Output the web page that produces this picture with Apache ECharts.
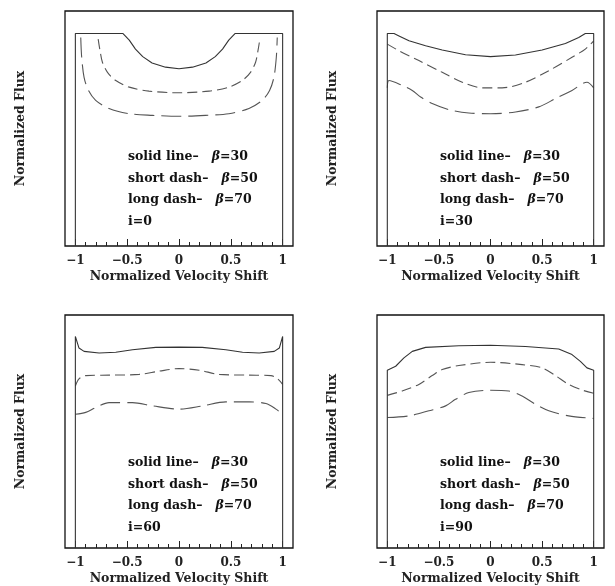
<!DOCTYPE html>
<html><head><meta charset="utf-8">
<script src="https://cdn.jsdelivr.net/npm/echarts@6/dist/echarts.min.js"></script>
<style>html,body{margin:0;padding:0;background:#fff}#c{width:615px;height:586px}</style>
</head><body><div id="c"></div>
<script>
// ---- tick values ----
const majorTicks = [-1, -0.5, 0, 0.5, 1];
const minorTicks = [-0.9, -0.8, -0.7, -0.6, -0.4, -0.3, -0.2, -0.1, 0.1, 0.2, 0.3, 0.4, 0.6, 0.7, 0.8, 0.9];

// ---- annotation text ----
const inclinations = ['i=0', 'i=30', 'i=60', 'i=90'];
const legendNames = ['solid line', 'short dash', 'long dash'];
const betaValues = ['30', '50', '70'];

// ---- panel i=0 ----
const solid_i0 = [[-1, 0], [-1, 0.904], [-0.54, 0.904], [-0.48, 0.876], [-0.42, 0.838], [-0.35, 0.806], [-0.26, 0.779], [-0.13, 0.761], [0, 0.754], [0.13, 0.761], [0.26, 0.779], [0.35, 0.806], [0.42, 0.838], [0.48, 0.876], [0.54, 0.904], [1, 0.904], [1, 0]];
const short_i0 = [[-0.78, 0.88], [-0.762, 0.831], [-0.739, 0.782], [-0.69, 0.739], [-0.61, 0.704], [-0.48, 0.676], [-0.29, 0.659], [0, 0.652], [0.29, 0.659], [0.48, 0.676], [0.61, 0.704], [0.69, 0.739], [0.739, 0.782], [0.762, 0.831], [0.78, 0.88]];
const long_i0 = [[-0.948, 0.887], [-0.939, 0.803], [-0.916, 0.718], [-0.874, 0.662], [-0.804, 0.62], [-0.675, 0.585], [-0.481, 0.563], [-0.256, 0.556], [0, 0.552], [0.256, 0.556], [0.481, 0.563], [0.675, 0.585], [0.804, 0.62], [0.874, 0.662], [0.916, 0.718], [0.939, 0.803], [0.948, 0.887]];

// ---- panel i=30 ----
const solid_i30 = [[-1, 0], [-1, 0.904], [-0.935, 0.904], [-0.887, 0.894], [-0.79, 0.873], [-0.629, 0.852], [-0.468, 0.834], [-0.242, 0.814], [0, 0.806], [0.242, 0.813], [0.5, 0.834], [0.726, 0.862], [0.855, 0.887], [0.919, 0.904], [1, 0.904], [1, 0]];
const short_i30 = [[-1, 0.859], [-0.887, 0.831], [-0.694, 0.789], [-0.468, 0.739], [-0.274, 0.697], [-0.081, 0.673], [0.113, 0.673], [0.339, 0.697], [0.565, 0.746], [0.79, 0.803], [0.919, 0.838], [1, 0.873]];
const long_i30 = [[-1, 0.673], [-0.984, 0.704], [-0.855, 0.683], [-0.758, 0.662], [-0.677, 0.634], [-0.565, 0.606], [-0.403, 0.58], [-0.21, 0.566], [0, 0.563], [0.242, 0.57], [0.468, 0.592], [0.629, 0.627], [0.79, 0.662], [0.935, 0.697], [1, 0.673]];

// ---- panel i=60 ----
const solid_i60 = [[-1, 0], [-1, 0.908], [-0.965, 0.858], [-0.916, 0.844], [-0.771, 0.837], [-0.61, 0.84], [-0.449, 0.851], [-0.224, 0.861], [0, 0.862], [0.224, 0.861], [0.452, 0.851], [0.613, 0.84], [0.774, 0.837], [0.919, 0.844], [0.968, 0.858], [1, 0.908], [1, 0]];
const short_i60 = [[-1, 0.695], [-0.965, 0.726], [-0.9, 0.74], [-0.675, 0.742], [-0.385, 0.745], [-0.192, 0.759], [0, 0.77], [0.195, 0.763], [0.388, 0.745], [0.678, 0.742], [0.887, 0.74], [0.952, 0.726], [1, 0.702]];
const long_i60 = [[-1, 0.574], [-0.9, 0.582], [-0.804, 0.603], [-0.675, 0.624], [-0.449, 0.624], [-0.256, 0.61], [0, 0.596], [0.227, 0.61], [0.452, 0.627], [0.678, 0.627], [0.839, 0.62], [0.936, 0.596], [1, 0.574]];

// ---- panel i=90 ----
const solid_i90 = [[-1, 0], [-1, 0.763], [-0.919, 0.78], [-0.839, 0.816], [-0.758, 0.844], [-0.629, 0.861], [-0.306, 0.868], [0, 0.87], [0.339, 0.865], [0.661, 0.854], [0.79, 0.83], [0.871, 0.801], [0.935, 0.773], [1, 0.763], [1, 0]];
const short_i90 = [[-1, 0.655], [-0.855, 0.674], [-0.694, 0.702], [-0.565, 0.74], [-0.468, 0.766], [-0.306, 0.783], [0, 0.797], [0.306, 0.787], [0.5, 0.773], [0.629, 0.74], [0.758, 0.702], [0.887, 0.678], [1, 0.664]];
const long_i90 = [[-1, 0.56], [-0.79, 0.567], [-0.597, 0.589], [-0.435, 0.61], [-0.339, 0.638], [-0.21, 0.667], [0, 0.677], [0.177, 0.674], [0.306, 0.652], [0.435, 0.617], [0.565, 0.589], [0.758, 0.567], [1, 0.556]];

const panels = [
  [solid_i0, short_i0, long_i0],
  [solid_i30, short_i30, long_i30],
  [solid_i60, short_i60, long_i60],
  [solid_i90, short_i90, long_i90]
];

// ---- layout ----
const gridBoxes = [
  { left: 65, top: 11, width: 228, height: 235 },
  { left: 377, top: 11, width: 227, height: 235 },
  { left: 65, top: 315, width: 228, height: 235 },
  { left: 377, top: 315, width: 227, height: 235 }
];
const textLeft = [128, 440, 128, 440];
const textTop = [157, 157, 463, 463];
const textStep = 21.5;

const FONT = '"DejaVu Serif", "Liberation Serif", serif';
const minus = v => String(v).replace('-', '\u2212');

const grid = [], xAxis = [], yAxis = [], series = [], graphic = [];
gridBoxes.forEach((g, k) => {
  grid.push(Object.assign({ show: true, borderColor: '#111', borderWidth: 1.3, backgroundColor: 'transparent' }, g));
  // major axis with labels
  xAxis.push({
    type: 'value', gridIndex: k, min: -1.1, max: 1.1, position: 'bottom',
    name: 'Normalized Velocity Shift', nameLocation: 'middle', nameGap: 24,
    nameTextStyle: { fontFamily: FONT, fontWeight: 'bold', fontSize: 12.5, color: '#222' },
    axisLine: { show: false },
    splitLine: { show: false },
    axisTick: { show: true, inside: true, length: 7, customValues: majorTicks, lineStyle: { color: '#222', width: 1 } },
    axisLabel: { show: true, customValues: majorTicks, margin: 9, formatter: minus,
      fontFamily: FONT, fontWeight: 'bold', fontSize: 12, color: '#222' }
  });
  // minor tick axis
  xAxis.push({
    type: 'value', gridIndex: k, min: -1.1, max: 1.1, position: 'bottom',
    axisLine: { show: false }, splitLine: { show: false }, axisLabel: { show: false },
    axisTick: { show: true, inside: true, length: 4, customValues: minorTicks, lineStyle: { color: '#222', width: 1 } }
  });
  yAxis.push({
    type: 'value', gridIndex: k, min: 0, max: 1,
    name: 'Normalized Flux', nameLocation: 'middle', nameRotate: 90, nameGap: 38,
    nameTextStyle: { fontFamily: FONT, fontWeight: 'bold', fontSize: 12.5, color: '#222' },
    axisLine: { show: false }, axisTick: { show: false }, axisLabel: { show: false }, splitLine: { show: false }
  });
  const styles = [
    { type: 'solid', color: '#333', width: 1.1 },
    { type: [10, 5], color: '#555', width: 1.1 },
    { type: [20, 7], color: '#555', width: 1.1 }
  ];
  panels[k].forEach((d, s) => {
    series.push({
      type: 'line', xAxisIndex: 2 * k, yAxisIndex: k, data: d,
      showSymbol: false, symbol: 'none', smooth: s === 0 ? false : 0.3, animation: false,
      lineStyle: styles[s], z: 3 - s
    });
  });
  legendNames.forEach((nm, j) => {
    graphic.push({
      type: 'text', x: textLeft[k], y: textTop[k] + j * textStep,
      style: {
        text: nm + '\u2013   {b|\u03b2}=' + betaValues[j],
        fill: '#111', fontFamily: FONT, fontWeight: 'bold', fontSize: 12.5,
        verticalAlign: 'middle',
        rich: { b: { fontFamily: FONT, fontWeight: 'bold', fontStyle: 'italic', fontSize: 12.5, fill: '#111' } }
      }
    });
  });
  graphic.push({
    type: 'text', x: textLeft[k], y: textTop[k] + 3 * textStep,
    style: { text: inclinations[k], fill: '#111', fontFamily: FONT, fontWeight: 'bold', fontSize: 12.5, verticalAlign: 'middle' }
  });
});

const chart = echarts.init(document.getElementById('c'), null, { renderer: 'canvas' });
chart.setOption({ animation: false, backgroundColor: '#fff', grid, xAxis, yAxis, series, graphic });
</script>
</body></html>
